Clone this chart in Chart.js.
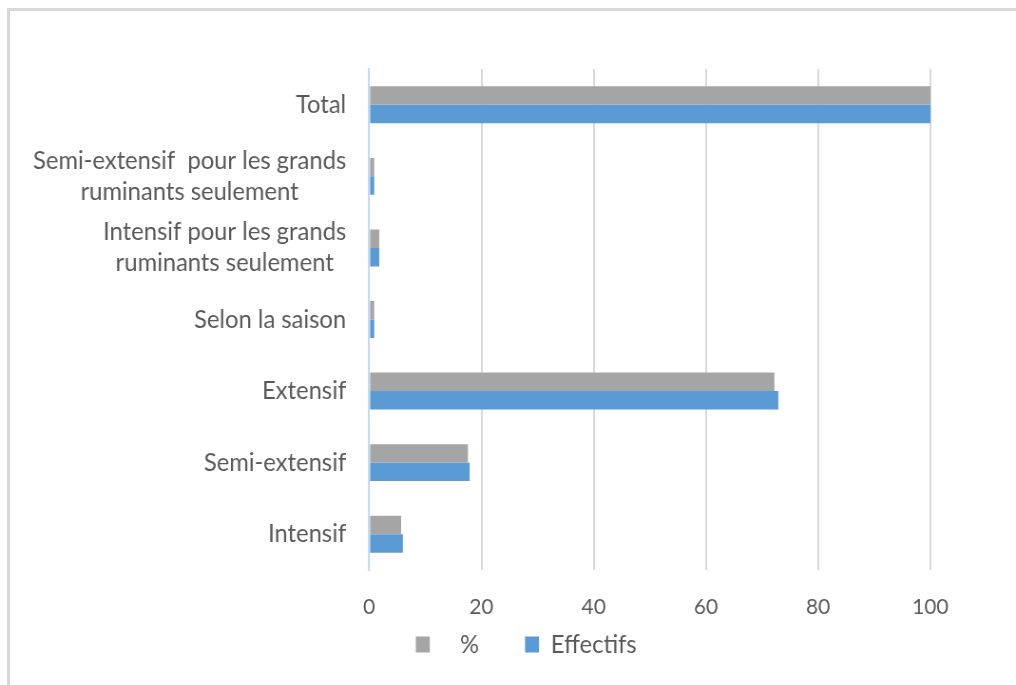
<!DOCTYPE html>
<html>
<head>
<meta charset="utf-8">
<script src="https://cdn.jsdelivr.net/npm/chart.js@4"></script>
<style>
  html, body { margin: 0; padding: 0; background: #fff; width: 1016px; height: 685px; overflow: hidden; }
  #wrap { position: relative; width: 1016px; height: 685px; }
  #wrap canvas { position: absolute; left: 0; top: 0; }
  #frame { position: absolute; left: 7px; top: 8px; right: 0; bottom: 0;
           border-top: 3px solid #d9d9d9; border-left: 3px solid #d9d9d9; pointer-events: none; }
</style>
</head>
<body>
<div id="wrap"><canvas id="c"></canvas><div id="frame"></div></div>
<script>
// Categories, top to bottom
const categories = [
  'Total',
  ['Semi-extensif  pour les grands', 'ruminants seulement'],
  ['Intensif pour les grands', 'ruminants seulement'],
  'Selon la saison',
  'Extensif',
  'Semi-extensif',
  'Intensif'
];
const pourcentages = [100, 0.9, 1.8, 0.9, 72.2, 17.6, 5.7];
const effectifs    = [100.2, 0.9, 1.8, 0.9, 72.9, 17.9, 6.0];
const xTicks = [0, 20, 40, 60, 80, 100];
const seriesNames = ['%', 'Effectifs'];

// The drawing is made on a slightly wider canvas and squeezed horizontally on screen
const SQ = 0.95;
const W = Math.round(1016 / SQ), H = 685;
const LABEL_FONT = 25;
const TICK_FONT = 22;
const TEXT = '#595959';

const canvas = document.getElementById('c');
canvas.width = W;
canvas.height = H;
canvas.style.width = '1016px';
canvas.style.height = '685px';

// Layout (screen px converted to canvas px)
const plotLeft = 369 / SQ, plotRight = 930 / SQ, legendCenter = 526 / SQ;
const padRight = W - plotRight;
const padLeft = 2 * legendCenter - W + padRight;
const yAxisWidth = plotLeft - padLeft;

Chart.defaults.font.family = 'Lato';

// Category labels: each multi-line label is centred on itself and right-aligned as a block
const categoryLabels = {
  id: 'categoryLabels',
  afterDraw(chart) {
    const y = chart.scales.y, ctx = chart.ctx;
    ctx.save();
    ctx.font = LABEL_FONT + 'px Lato';
    ctx.fillStyle = TEXT;
    ctx.textAlign = 'center';
    ctx.textBaseline = 'middle';
    const right = 346 / SQ;
    categories.forEach((lab, i) => {
      const lines = Array.isArray(lab) ? lab : [lab];
      const wMax = Math.max(...lines.map(l => ctx.measureText(l).width));
      const cx = right - wMax / 2;
      const yc = y.getPixelForValue(i);
      lines.forEach((l, j) => ctx.fillText(l, cx, yc + (j - (lines.length - 1) / 2) * 31));
    });
    ctx.restore();
  }
};

new Chart(canvas, {
  type: 'bar',
  data: {
    labels: categories,
    datasets: [
      { label: '   ' + seriesNames[0] + '      ', data: pourcentages, backgroundColor: '#a5a5a5',
        categoryPercentage: 0.516, barPercentage: 1 },
      { label: seriesNames[1], data: effectifs, backgroundColor: '#5b9bd5',
        categoryPercentage: 0.516, barPercentage: 1 }
    ]
  },
  options: {
    indexAxis: 'y',
    responsive: false,
    animation: false,
    devicePixelRatio: 1,
    layout: { padding: { top: 69, bottom: 18, left: padLeft, right: padRight } },
    scales: {
      x: {
        min: 0, max: 100,
        afterBuildTicks: s => { s.ticks = xTicks.map(v => ({ value: v })); },
        afterFit: s => { s.height = 52; },
        grid: {
          color: c => (c.tick && c.tick.value === 0) ? '#c5d9ef' : '#d9d9d9',
          lineWidth: 2, drawTicks: false
        },
        border: { display: false },
        ticks: { padding: 23.5, color: TEXT, font: { size: TICK_FONT } }
      },
      y: {
        grid: { display: false },
        border: { color: '#c5d9ef', width: 2 },
        ticks: { display: false },
        afterFit: s => { s.width = yAxisWidth; }
      }
    },
    plugins: {
      legend: {
        position: 'bottom',
        labels: { boxWidth: 14 / SQ, boxHeight: 16, color: TEXT, font: { size: LABEL_FONT }, padding: 10 }
      },
      tooltip: { enabled: false }
    }
  },
  plugins: [categoryLabels]
});
</script>
</body>
</html>
